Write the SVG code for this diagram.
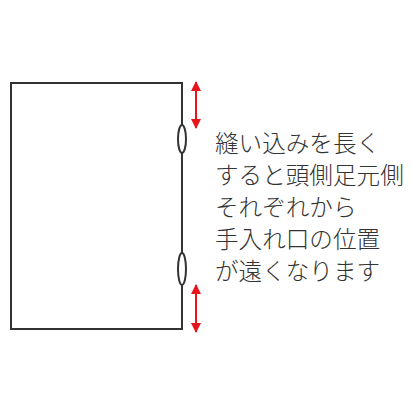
<svg xmlns="http://www.w3.org/2000/svg" width="411" height="411" viewBox="0 0 411 411">
<style>
.frame{fill:none;stroke:#333;stroke-width:2}
.slit{fill:#fff;stroke:#333;stroke-width:2}
.arr{stroke:#e8141c;stroke-width:2;fill:none}
.t{font-family:"Noto Sans CJK JP",sans-serif;font-size:23.6px;fill:#333;font-weight:300}
</style>
<defs>
<marker id="ah" viewBox="0 0 10 10" refX="9" refY="5" markerWidth="5" markerHeight="5.5" orient="auto-start-reverse" markerUnits="strokeWidth">
<path d="M0,0 L10,5 L0,10 z" fill="#e8141c"/>
</marker>
</defs>
<g id="sheet">
<rect class="frame" x="11" y="83" width="171" height="246"/>
</g>
<g id="slits">
<ellipse class="slit" cx="182" cy="139" rx="4" ry="14"/>
<ellipse class="slit" cx="182" cy="269" rx="4" ry="16"/>
</g>
<g id="connectors">
<line class="arr" x1="196" y1="82" x2="196" y2="128" marker-start="url(#ah)" marker-end="url(#ah)"/>
<line class="arr" x1="196" y1="285" x2="196" y2="332" marker-start="url(#ah)" marker-end="url(#ah)"/>
</g>
<g id="label">
<text class="t" x="215" y="152">縫い込みを長く</text>
<text class="t" x="215" y="184">すると頭側足元側</text>
<text class="t" x="215" y="216">それぞれから</text>
<text class="t" x="215" y="248">手入れ口の位置</text>
<text class="t" x="215" y="280">が遠くなります</text>
</g>
</svg>
